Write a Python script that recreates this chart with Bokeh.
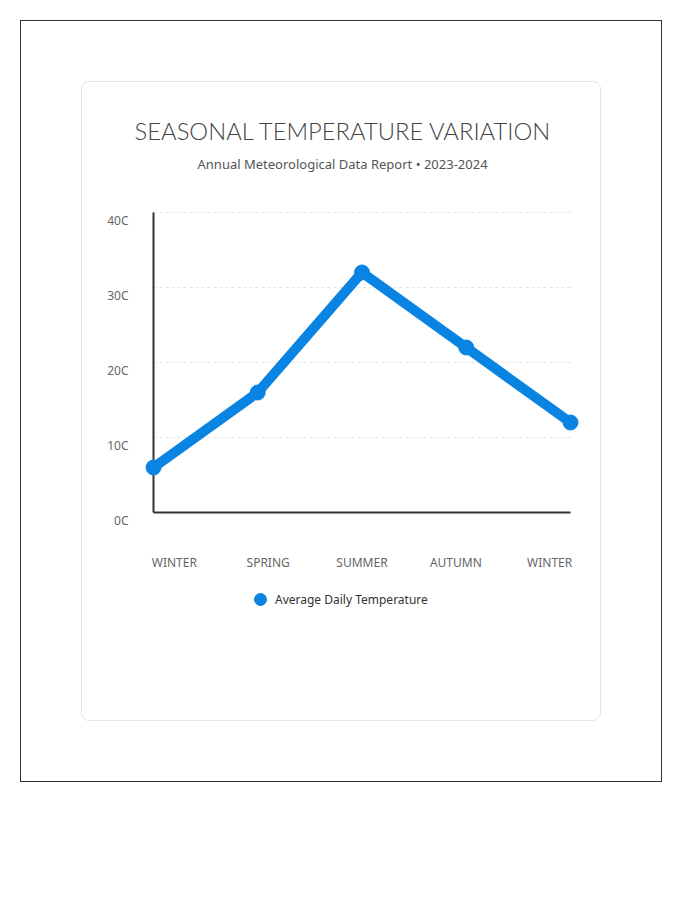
from bokeh.plotting import figure
from bokeh.models import (Range1d, FixedTicker, Legend, LegendItem, Title, Div,
                          ColumnDataSource)
from bokeh.embed import file_html
from bokeh.resources import INLINE

seasons = ["WINTER", "SPRING", "SUMMER", "AUTUMN", "WINTER"]
temps = [6, 16, 32, 22, 12]
y_ticks = [0, 10, 20, 30, 40]
y_tick_labels = ["0C", "10C", "20C", "30C", "40C"]
title_text = "SEASONAL TEMPERATURE VARIATION"
subtitle_text = "Annual Meteorological Data Report \u2022 2023-2024"
legend_text = "Average Daily Temperature"

BLUE = "#0984e3"
FONT = "Noto Sans"

# card geometry (figure placed at OX, OY)
CW, CH = 518, 638
OX, OY = 82, 82
PL, PR, PT, PB = 153, 570, 212, 512  # absolute axis extents
FL, FR, FT, FB = 100, 582, 202, 640  # absolute frame extents
xpx = (PR - PL) / 4.0
ypx = (PB - PT) / 40.0
YLAB_SHIFT = 8  # y tick labels sit slightly below their gridlines

idx = list(range(len(seasons)))
src = ColumnDataSource(dict(x=idx, y=temps))

p = figure(width=CW, height=CH, output_backend="svg", toolbar_location=None,
           x_range=Range1d(-(PL - FL) / xpx, 4 + (FR - PR) / xpx),
           y_range=Range1d(-(FB - PB) / ypx, 40 + (PT - FT) / ypx),
           min_border_left=FL - OX, min_border_right=CW - (FR - OX),
           min_border_top=FT - OY, min_border_bottom=CH - (FB - OY),
           margin=(OY, 0, 0, OX))
p.outline_line_color = None
p.background_fill_color = "white"
p.border_fill_color = "white"

# grid
p.xgrid.visible = False
p.ygrid.ticker = FixedTicker(ticks=y_ticks[1:])
p.ygrid.grid_line_color = "#e3e3e3"
p.ygrid.grid_line_dash = "3 3"
p.ygrid.cross_bounds = (0, 4)

# y axis through x = 0
ylab_pos = [t - YLAB_SHIFT / ypx for t in y_ticks]
p.yaxis.fixed_location = 0
p.yaxis.bounds = (0, 40)
p.yaxis.ticker = FixedTicker(ticks=ylab_pos)
p.yaxis.major_label_overrides = {t: l for t, l in zip(ylab_pos, y_tick_labels)}
p.yaxis.major_tick_line_color = None
p.yaxis.major_tick_out = 0
p.yaxis.major_tick_in = 0
p.yaxis.minor_tick_line_color = None
p.yaxis.axis_line_color = "#333333"
p.yaxis.axis_line_width = 2
p.yaxis.major_label_text_font = FONT
p.yaxis.major_label_text_font_size = "12px"
p.yaxis.major_label_text_color = "#666666"
p.yaxis.major_label_standoff = 25

# x axis through y = 0
label_pos = [2 + 0.9 * (i - 2) for i in idx]
p.xaxis.fixed_location = 0
p.xaxis.bounds = (0, 4)
p.xaxis.ticker = FixedTicker(ticks=label_pos)
p.xaxis.major_label_overrides = {t: s for t, s in zip(label_pos, seasons)}
p.xaxis.major_tick_line_color = None
p.xaxis.major_tick_out = 0
p.xaxis.major_tick_in = 0
p.xaxis.minor_tick_line_color = None
p.xaxis.axis_line_color = "#333333"
p.xaxis.axis_line_width = 2
p.xaxis.major_label_text_font = FONT
p.xaxis.major_label_text_font_size = "12px"
p.xaxis.major_label_text_color = "#666666"
p.xaxis.major_label_standoff = 41

# data
p.line("x", "y", source=src, line_color=BLUE, line_width=10,
       line_cap="round", line_join="round", level="overlay")
pts = p.scatter("x", "y", source=src, size=15, fill_color=BLUE, line_color=BLUE,
                level="overlay")

# titles (stacked upward from the plot area: gap, subtitle, title)
p.add_layout(Title(text=" ", text_font_size="1px", standoff=36 - (PT - FT)), "above")
p.add_layout(Title(text=subtitle_text, align="left", offset=197 - FL, standoff=0,
                   vertical_align="middle",
                   text_font=FONT, text_font_size="13px", text_font_style="normal",
                   text_color="#555555"), "above")
p.title.text = title_text
p.title.align = "left"
p.title.offset = 134 - FL
p.title.standoff = 16
p.title.vertical_align = "middle"
p.title.text_font = "Lato Light"
p.title.text_font_size = "23.8px"
p.title.text_font_style = "normal"
p.title.text_color = "#444444"

# legend inside the (extended) plot frame, below the x axis labels
legend = Legend(items=[LegendItem(label=legend_text, renderers=[pts])],
                location=(245 - FL, FB - 614), orientation="horizontal",
                label_text_font=FONT, label_text_font_size="12px",
                label_text_color="#333333", glyph_width=30, glyph_height=30,
                label_standoff=0, padding=5, margin=0,
                border_line_color=None, background_fill_color=None)
p.add_layout(legend)

outer = Div(width=642, height=762, text="", margin=(0, 0, 0, 0),
            styles={"position": "absolute", "left": "20px", "top": "20px",
                    "border": "1px solid #333333"})
card = Div(width=520, height=640, text="", margin=(0, 0, 0, 0),
           styles={"position": "absolute", "left": "81px", "top": "81px",
                   "border": "1px solid #e6e6e6", "border-radius": "8px",
                   "z-index": "5", "pointer-events": "none"})

open("out.html", "w").write(file_html([outer, p, card], INLINE))
